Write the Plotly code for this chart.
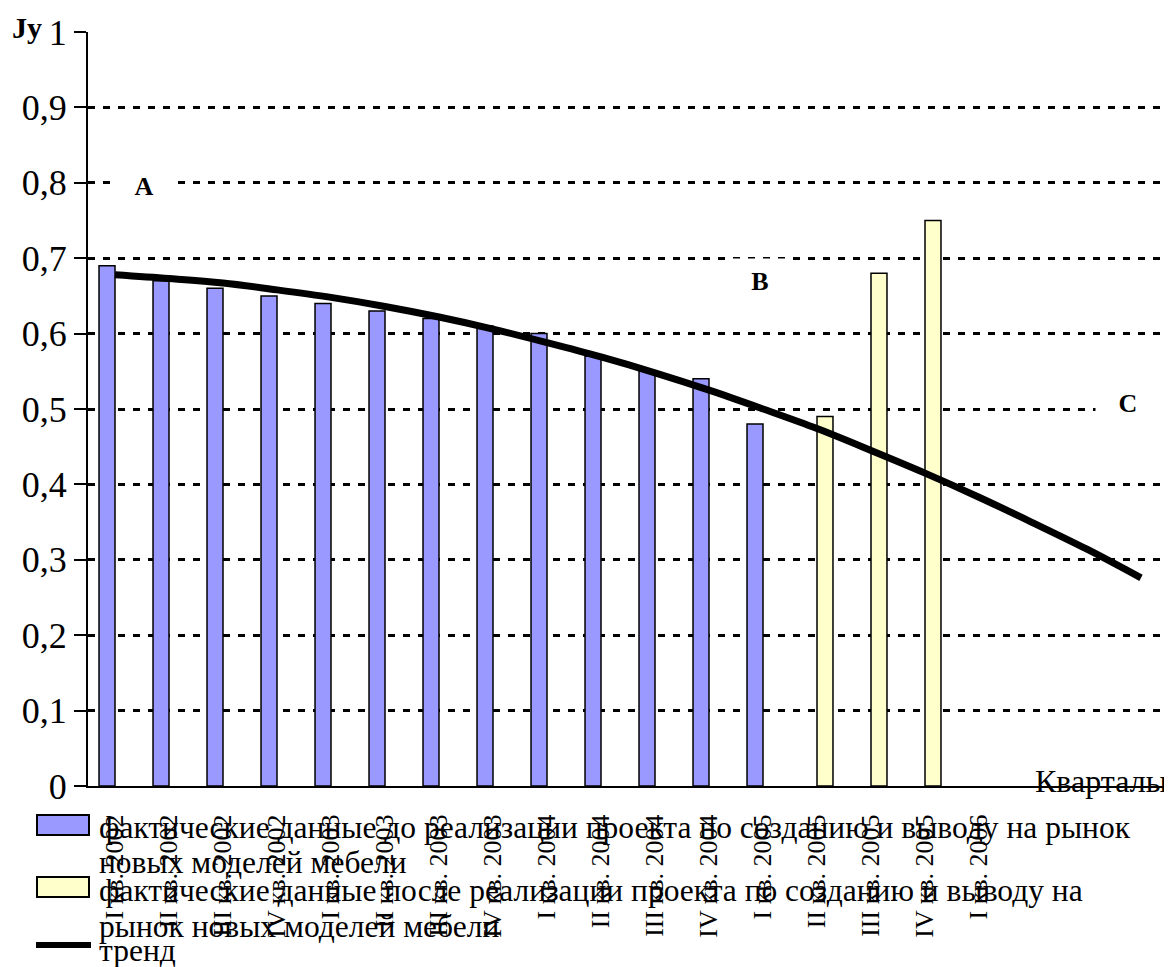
import plotly.graph_objects as go

# ---------------- data ----------------
categories = ["I кв. 2002", "II кв. 2002", "III кв. 2002", "IV кв. 2002",
              "I кв. 2003", "II кв. 2003", "III кв. 2003", "IV кв. 2003",
              "I кв. 2004", "II кв. 2004", "III кв. 2004", "IV кв. 2004",
              "I кв. 2005", "II кв. 2005", "III кв. 2005", "IV кв. 2005",
              "I кв. 2006"]
before_idx = list(range(0, 13))
before_vals = [0.69, 0.67, 0.66, 0.65, 0.64, 0.63, 0.62, 0.61, 0.60, 0.57, 0.55, 0.54, 0.48]
after_idx = [13, 14, 15]
after_vals = [0.49, 0.68, 0.75]
trend_idx = list(range(0, 20))
trend_vals = [0.678, 0.673, 0.667, 0.658, 0.648, 0.636, 0.622, 0.606, 0.588, 0.569,
              0.548, 0.525, 0.500, 0.474, 0.445, 0.415, 0.383, 0.349, 0.314, 0.276]
y_tickvals = [0, 0.1, 0.2, 0.3, 0.4, 0.5, 0.6, 0.7, 0.8, 0.9, 1.0]
y_ticktext = ["0", "0,1", "0,2", "0,3", "0,4", "0,5", "0,6", "0,7", "0,8", "0,9", "1"]
legend_before = ["фактические данные до реализации проекта по созданию и выводу на рынок",
                 "новых моделей мебели"]
legend_after = ["фактические данные после реализации проекта по созданию и выводу на",
                "рынок новых моделей мебели"]
legend_trend = ["тренд"]
y_title = "Jy"
x_title = "Кварталы"
point_labels = ["A", "B", "C"]

# ---------------- layout helpers ----------------
OFF = 8                      # page body margin in the browser
W, H = 1172 - OFF, 967 - OFF
# plot area edges in screenshot pixels
SL, SR, ST, SB = 88, 1168, 32, 786
FONT = "Liberation Serif, Times New Roman, serif"
BLUE = "#9999FF"
YELLOW = "#FFFFCC"
BAR_W = 0.296


def pxx(px):
    return (px - SL) / (SR - SL)


def pxy(py):
    return (SB - py) / (SB - ST)


fig = go.Figure()
fig.add_trace(go.Bar(x=before_idx, y=before_vals, name=" ".join(legend_before),
                     width=BAR_W, offset=-BAR_W,
                     marker=dict(color=BLUE, line=dict(color="black", width=1.5)),
                     showlegend=False, hoverinfo="skip"))
fig.add_trace(go.Bar(x=after_idx, y=after_vals, name=" ".join(legend_after),
                     width=BAR_W, offset=0,
                     marker=dict(color=YELLOW, line=dict(color="black", width=1.5)),
                     showlegend=False, hoverinfo="skip"))
fig.add_trace(go.Scatter(x=trend_idx, y=trend_vals, mode="lines", name=legend_trend[0],
                         line=dict(color="black", width=7, shape="spline"),
                         showlegend=False, hoverinfo="skip"))

annotations = []
shapes = []

# axis titles
annotations.append(dict(text="<b>%s</b>" % y_title, x=pxx(27), y=pxy(28), xref="paper", yref="paper",
                        showarrow=False, font=dict(family=FONT, size=30, color="black"),
                        xanchor="center", yanchor="middle"))
annotations.append(dict(text=x_title, x=pxx(1169), y=pxy(781), xref="paper", yref="paper",
                        showarrow=False, font=dict(family=FONT, size=32, color="black"),
                        xanchor="right", yanchor="middle"))

# point labels A, B, C
label_pos = [(144, 186), (760, 281), (1128, 403)]
for txt, (lx, ly) in zip(point_labels, label_pos):
    annotations.append(dict(text="<b>%s</b>" % txt, x=pxx(lx), y=pxy(ly), xref="paper", yref="paper",
                            showarrow=False, font=dict(family=FONT, size=26, color="black"),
                            bgcolor="white", width=60, height=40, borderpad=2,
                            xanchor="center", yanchor="middle"))

# manual legend
legend_items = [
    (legend_before, BLUE, [827, 863], 825),
    (legend_after, YELLOW, [890, 927], 887),
]
for lines, col, ys, ry in legend_items:
    shapes.append(dict(type="rect", xref="paper", yref="paper",
                       x0=pxx(37), x1=pxx(89), y0=pxy(ry + 10), y1=pxy(ry - 10),
                       fillcolor=col, line=dict(color="black", width=2)))
    for t, yy in zip(lines, ys):
        annotations.append(dict(text=t, x=pxx(97), y=pxy(yy), xref="paper", yref="paper",
                                showarrow=False, font=dict(family=FONT, size=31.5, color="black"),
                                xanchor="left", yanchor="middle"))
shapes.append(dict(type="line", xref="paper", yref="paper",
                   x0=pxx(36), x1=pxx(91), y0=pxy(945), y1=pxy(945),
                   line=dict(color="black", width=6)))
annotations.append(dict(text=legend_trend[0], x=pxx(97), y=pxy(950), xref="paper", yref="paper",
                        showarrow=False, font=dict(family=FONT, size=31.5, color="black"),
                        xanchor="left", yanchor="middle"))

fig.update_layout(
    width=W, height=H,
    margin=dict(l=SL - OFF, r=W - (SR - OFF), t=ST - OFF, b=H - (SB - OFF), autoexpand=False),
    paper_bgcolor="white", plot_bgcolor="white",
    barmode="overlay",
    showlegend=False,
    font=dict(family=FONT, color="black"),
    annotations=annotations, shapes=shapes,
    xaxis=dict(range=[-0.5, 19.5], tickmode="array", tickvals=list(range(len(categories))),
               ticktext=categories, tickangle=-90, ticks="", showgrid=False, zeroline=False,
               showline=True, linecolor="black", linewidth=2,
               tickfont=dict(family=FONT, size=26, color="black"), ticklabelstandoff=16,
               fixedrange=True),
    yaxis=dict(range=[0, 1], tickmode="array", tickvals=y_tickvals, ticktext=y_ticktext,
               showgrid=True, gridcolor="black", gridwidth=2.5, griddash="7px,8px",
               zeroline=False, showline=True, linecolor="black", linewidth=2,
               ticks="outside", ticklen=12, tickwidth=2, tickcolor="black",
               tickfont=dict(family=FONT, size=36, color="black"), fixedrange=True),
)

fig.write_html("out.html", config={"displayModeBar": False})
